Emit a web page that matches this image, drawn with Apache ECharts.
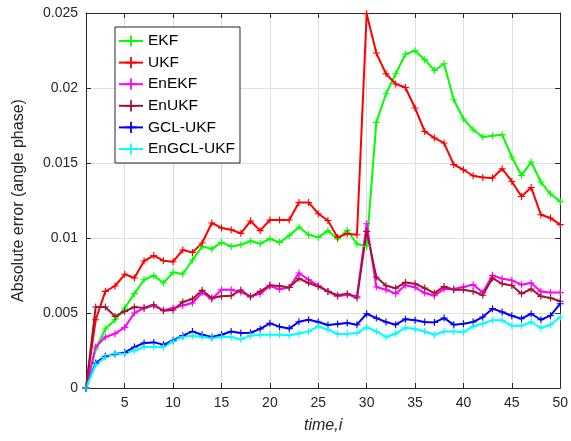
<!DOCTYPE html>
<html><head><meta charset="utf-8">
<script src="https://cdn.jsdelivr.net/npm/echarts@6/dist/echarts.min.js"></script>
<style>html,body{margin:0;padding:0;background:#fff}#c{width:571px;height:441px}</style>
</head><body><div id="c"></div>
<script>
var timeSteps = [];
for (var t = 1; t <= 50; t++) timeSteps.push(String(t));

var seriesNames = ['EKF','UKF','EnEKF','EnUKF','GCL-UKF','EnGCL-UKF'];
var seriesColors = ['#00ff00','#ff0000','#ff00ff','#a2142f','#0000ff','#00ffff'];

var ekf = [0,0.0026,0.00393,0.00455,0.00533,0.00629,0.00722,0.00749,0.0070,0.00771,
  0.0076,0.00853,0.00944,0.00927,0.00971,0.00944,0.00955,0.0098,0.00962,0.00995,
  0.00971,0.01015,0.01073,0.01022,0.01004,0.01049,0.00993,0.01051,0.0096,0.00944,
  0.01771,0.01962,0.02095,0.02225,0.02249,0.02189,0.02117,0.02162,0.01922,0.01795,
  0.01722,0.01673,0.01682,0.01689,0.0154,0.01417,0.01507,0.01373,0.01293,0.01244];
var ukf = [0,0.00455,0.00644,0.0068,0.00758,0.00733,0.00847,0.00883,0.00849,0.00842,
  0.0092,0.00904,0.00967,0.0110,0.01067,0.01055,0.01031,0.01113,0.01049,0.0112,
  0.0112,0.0112,0.01237,0.01237,0.01162,0.01117,0.01004,0.01029,0.01022,0.02495,
  0.02233,0.02095,0.02027,0.02003,0.01867,0.0171,0.01667,0.01633,0.01489,0.01455,
  0.01415,0.01404,0.0140,0.01462,0.01377,0.01277,0.01337,0.01155,0.01133,0.01089];
var enekf = [0,0.00273,0.0034,0.00362,0.00404,0.0050,0.00533,0.00549,0.00518,0.00533,
  0.0055,0.00567,0.00637,0.00593,0.00655,0.00655,0.0064,0.00611,0.00628,0.0068,
  0.00658,0.0067,0.00767,0.00722,0.00682,0.00644,0.00611,0.00622,0.00611,0.01095,
  0.00673,0.00655,0.00629,0.00685,0.00671,0.00633,0.00615,0.0066,0.0066,0.00673,
  0.00689,0.00637,0.00751,0.00729,0.00718,0.00689,0.0070,0.00644,0.00637,0.00637];
var enukf = [0,0.0054,0.0054,0.00477,0.00511,0.0054,0.00533,0.00555,0.00515,0.0052,
  0.00574,0.00593,0.00651,0.0060,0.00611,0.00615,0.00653,0.00607,0.00644,0.00685,
  0.0068,0.0067,0.0073,0.0070,0.00677,0.00644,0.00618,0.00629,0.0060,0.01044,
  0.0074,0.00682,0.00666,0.00704,0.00695,0.00666,0.00633,0.00677,0.00655,0.00655,
  0.00644,0.00618,0.00733,0.00695,0.00684,0.00629,0.0066,0.00611,0.0060,0.00578];
var gclukf = [0,0.00167,0.00211,0.00226,0.00237,0.00273,0.0030,0.00304,0.00289,0.00318,
  0.00349,0.00377,0.00355,0.0034,0.00355,0.00377,0.00367,0.00368,0.00394,0.00431,
  0.00409,0.00396,0.00442,0.00455,0.0044,0.0042,0.00426,0.00433,0.00422,0.00495,
  0.00466,0.0044,0.00422,0.00459,0.00451,0.0044,0.00437,0.00466,0.00422,0.00429,
  0.0044,0.00473,0.00529,0.00507,0.00482,0.00462,0.00495,0.00455,0.00482,0.00562];
var engclukf = [0,0.00155,0.00204,0.00229,0.00229,0.00249,0.00273,0.00273,0.00273,0.00311,
  0.00342,0.00349,0.0034,0.00333,0.0034,0.0034,0.00324,0.00349,0.00355,0.00355,
  0.00355,0.00352,0.00364,0.00377,0.00411,0.00389,0.0036,0.00362,0.00366,0.00404,
  0.00377,0.0034,0.00362,0.00402,0.00393,0.00377,0.00355,0.00377,0.00377,0.00373,
  0.00411,0.00429,0.00451,0.00451,0.00415,0.00415,0.0044,0.0040,0.00422,0.00473];
var allSeries = [ekf, ukf, enekf, enukf, gclukf, engclukf];

var yTicks = [0, 0.005, 0.01, 0.015, 0.02, 0.025];
var FONT = '"Liberation Sans", Arial, Helvetica, sans-serif';
var AX = '#262626';
var plus = 'path://M4.2,0 H5.8 V4.2 H10 V5.8 H5.8 V10 H4.2 V5.8 H0 V4.2 H4.2 Z';

function every5(i, v) { return (Number(v) % 5) === 0; }

var chart = echarts.init(document.getElementById('c'), null, {renderer: 'canvas'});
var xBase = {
  type: 'category', data: timeSteps, boundaryGap: false,
  axisLine: {show: true, onZero: false, lineStyle: {color: AX, width: 1}},
  axisTick: {show: true, inside: true, length: 5, interval: every5, lineStyle: {color: AX}},
  splitLine: {show: true, interval: every5, lineStyle: {color: '#e0e0e0', width: 1}}
};
var yBase = {
  type: 'value', min: 0, max: 0.025, interval: 0.005,
  axisLine: {show: true, lineStyle: {color: AX, width: 1}},
  axisTick: {show: true, inside: true, length: 5, lineStyle: {color: AX}},
  splitLine: {show: true, lineStyle: {color: '#e0e0e0', width: 1}}
};
var option = {
  animation: false,
  backgroundColor: '#fff',
  textStyle: {fontFamily: FONT},
  grid: {left: 86, right: 9, top: 13, bottom: 53, containLabel: false},
  xAxis: [
    Object.assign({}, xBase, {
      position: 'bottom',
      name: 'time,i', nameLocation: 'middle', nameGap: 30,
      nameTextStyle: {fontFamily: FONT, fontSize: 16, fontStyle: 'italic', color: AX},
      axisLabel: {show: true, interval: every5, margin: 8, fontFamily: FONT, fontSize: 14, color: AX}
    }),
    Object.assign({}, xBase, {position: 'top', axisLabel: {show: false}, splitLine: {show: false}})
  ],
  yAxis: [
    Object.assign({}, yBase, {
      position: 'left',
      name: 'Absolute error (angle phase)', nameLocation: 'middle', nameGap: 59,
      nameTextStyle: {fontFamily: FONT, fontSize: 16, color: AX},
      axisLabel: {show: true, margin: 8, fontFamily: FONT, fontSize: 14, color: AX,
        formatter: function (v) { return String(+v.toFixed(3)); }}
    }),
    Object.assign({}, yBase, {position: 'right', axisLabel: {show: false}, splitLine: {show: false}})
  ],
  legend: {
    show: true, orient: 'vertical', left: 115, top: 27,
    padding: [6, 5, 6, 3], itemGap: 5.6, itemWidth: 24, itemHeight: 14,
    backgroundColor: '#fff', borderColor: AX, borderWidth: 1,
    textStyle: {fontFamily: FONT, fontSize: 15.5, color: '#000'},
    data: seriesNames
  },
  series: allSeries.map(function (d, k) {
    return {
      name: seriesNames[k], type: 'line', data: d, xAxisIndex: 0, yAxisIndex: 0,
      symbol: plus, symbolSize: 7, showAllSymbol: true,
      lineStyle: {color: seriesColors[k], width: 2},
      itemStyle: {color: seriesColors[k]},
      emphasis: {disabled: true}
    };
  })
};
chart.setOption(option);
</script></body></html>
